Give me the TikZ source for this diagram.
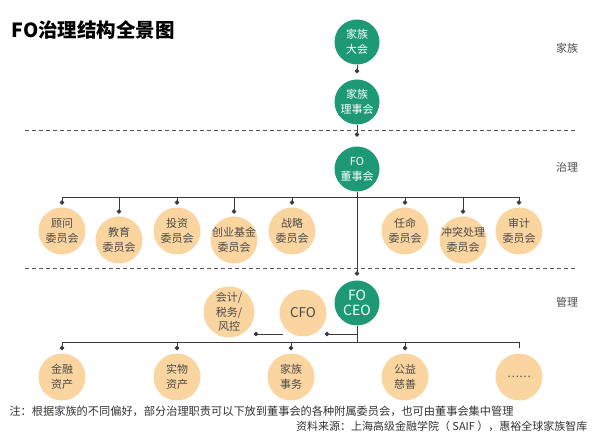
\documentclass[tikz,border=0pt]{standalone}
\usepackage{fontspec}
\setmainfont{Noto Sans CJK SC}
\usetikzlibrary{arrows.meta}
\definecolor{fogreen}{HTML}{1D9A75}
\definecolor{fotan}{HTML}{FAD5A0}
\definecolor{foline}{HTML}{3A3A3A}
\definecolor{fotext}{HTML}{4A4A4A}
\tikzset{
  gnode/.style={circle,fill=fogreen,text=white,minimum size=45pt,inner sep=-6pt,align=center,font=\fontsize{11}{15}\selectfont},
  tnode/.style={circle,fill=fotan,text=fotext,minimum size=47pt,inner sep=-6pt,align=center,font=\fontsize{11}{14.5}\selectfont},
  link/.style={draw=foline,line width=0.9pt},
  dotlink/.style={link,-{Circle[length=4.5pt]}},
  sepline/.style={draw=black!65,line width=0.8pt,dash pattern=on 4pt off 3pt},
  side/.style={text=fotext,font=\fontsize{11}{13}\selectfont}
}
\begin{document}
\begin{tikzpicture}[x=1pt,y=-1pt]
\useasboundingbox[fill=white] (0,0) rectangle (600,435);
% title and levels
\node[anchor=west,font=\fontsize{19.5}{21}\selectfont\bfseries] (title) at (8,30) {FO治理结构全景图};
\node[side] (lfamily) at (567,48) {家族};
\node[side] (lgov) at (567,167) {治理};
\node[side] (lmgmt) at (567,302) {管理};
\draw[sepline] (25,130) -- (578,130);
\draw[sepline] (25,268) -- (578,268);
% spine
\node[gnode] (assembly) at (357,42) {家族\\大会};
\node[gnode] (council) at (357,102) {家族\\理事会};
\node[gnode] (board) at (357,169) {FO\\董事会};
\node[gnode,font=\fontsize{14}{15.5}\selectfont] (ceo) at (357,303) {FO\\CEO};
\draw[dotlink] (assembly) -- ([yshift=6pt]council.north);
\draw[dotlink] (council) -- ([yshift=9.5pt]board.north);
\draw[dotlink] (board) -- ([yshift=4.5pt]ceo.north);
% committees
\coordinate (gbusL) at (62,197);
\coordinate (gbusR) at (519,197);
\draw[link] (gbusL) -- (gbusR);
\foreach \x/\y/\txt [count=\i] in {62/231/顾问\\委员会, 119/240/教育\\委员会, 177/231/投资\\委员会,
    234/240/创业基金\\委员会, 292/231/战略\\委员会, 405/231/任命\\委员会,
    463/240/冲突处理\\委员会, 519/231/审计\\委员会}{
  \node[tnode] (c\i) at (\x,\y) {\txt};
  \draw[dotlink] (c\i |- gbusL) -- ([yshift=2.5pt]c\i.north);
}
% management
\node[tnode,font=\fontsize{13.5}{15}\selectfont] (cfo) at (303,313) {CFO};
\node[tnode,minimum size=51pt] (acct) at (229,312) {会计/\\税务/\\风控};
\coordinate (cfotap) at (357,334);
\coordinate (cfoout) at (283,334);
\draw[dotlink] (cfotap) -- ([xshift=-2pt]cfo.east |- cfotap);
\draw[dotlink] (cfoout) -- ([xshift=-1pt]acct.east |- cfoout);
\coordinate (mbusL) at (62,342);
\coordinate (mbusR) at (519,342);
\draw[link] (mbusL) -- (mbusR);
\draw[link] (ceo) -- (ceo |- mbusL);
\foreach \x/\txt [count=\i] in {62/金融\\资产, 177/实物\\资产, 291/家族\\事务, 405/公益\\慈善}{
  \node[tnode] (u\i) at (\x,377) {\txt};
  \draw[dotlink] (u\i |- mbusL) -- ([yshift=3pt]u\i.north);
}
\node[tnode] (u5) at (519,377) {……};
\draw[link] (mbusR) -- ([yshift=5pt]u5.north);
% notes
\node[anchor=west,text=black!80,font=\fontsize{11.2}{13}\selectfont] (note) at (6,411) {注：根据家族的不同偏好，部分治理职责可以下放到董事会的各种附属委员会，也可由董事会集中管理};
\node[anchor=east,text=black!80,font=\fontsize{11}{13}\selectfont] (source) at (591,426) {资料来源：上海高级金融学院（ SAIF ），惠裕全球家族智库};
\end{tikzpicture}
\end{document}
